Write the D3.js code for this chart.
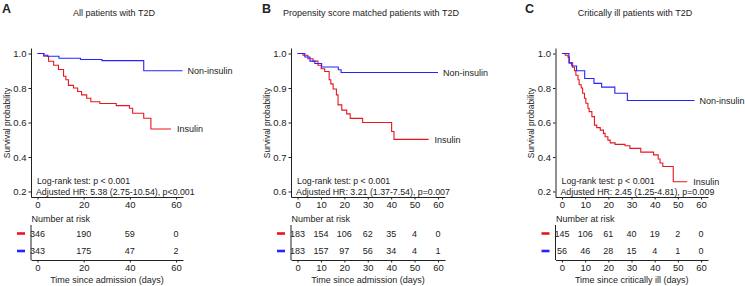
<!DOCTYPE html>
<html>
<head>
<meta charset="utf-8">
<script src="https://cdn.jsdelivr.net/npm/d3@7"></script>
<style>
  body { margin: 0; background: #fff; }
  svg text { font-family: "Liberation Sans", Arial, sans-serif; fill: #222; }
</style>
</head>
<body>
<div class="canvas"></div>
<script>
// survival curves: [day, survival probability]
const allInsulin = [[0,1],[2.7,0.984],[4.8,0.955],[7,0.932],[9.1,0.907],[11.3,0.868],[12.3,0.848],[13.4,0.815],[15.6,0.8],[17.4,0.78],[19.1,0.76],[21.3,0.741],[23.1,0.72],[27,0.71],[34.1,0.698],[39.8,0.683],[41.2,0.654],[46,0.625],[49.1,0.562],[57.8,0.562]];
const allNonInsulin = [[0,1],[2.8,0.99],[4.4,0.984],[9.3,0.973],[18.6,0.965],[27.9,0.959],[46,0.9],[62.8,0.9]];

const psmInsulin = [[0,1],[2.3,0.995],[4.4,0.985],[6.6,0.978],[8.7,0.966],[10.1,0.956],[11.6,0.948],[13.5,0.924],[14.2,0.912],[15.2,0.897],[16.6,0.88],[17.3,0.851],[18.9,0.836],[21,0.825],[22.5,0.812],[27.8,0.8],[40.2,0.774],[41.2,0.751],[56,0.751]];
const psmNonInsulin = [[0,1],[3.1,0.99],[5.3,0.978],[7.4,0.971],[10.3,0.961],[17.4,0.953],[18.6,0.945],[60,0.945]];

const icuInsulin = [[0,1],[1.4,0.99],[2.6,0.979],[3.2,0.946],[4.6,0.92],[5.4,0.901],[6,0.874],[6.9,0.848],[7.4,0.819],[8.3,0.8],[8.9,0.77],[9.7,0.741],[10.3,0.712],[11.2,0.683],[11.7,0.663],[12.9,0.634],[14,0.585],[15,0.57],[16.5,0.556],[17.9,0.537],[18.6,0.517],[19.8,0.498],[20.8,0.482],[22.9,0.473],[27.2,0.465],[29.3,0.45],[34,0.428],[39.5,0.412],[41.5,0.388],[42.3,0.365],[43.5,0.345],[48,0.256],[54,0.256]];
const icuNonInsulin = [[0,1],[3,0.946],[4.2,0.928],[6.3,0.9],[9.8,0.855],[13.8,0.827],[17.1,0.805],[22.8,0.77],[28.2,0.728],[57.2,0.728]];

// number at risk tables
const riskTimesA = [0, 20, 40, 60];
const riskInsulinA = [346, 190, 59, 0];
const riskNonInsulinA = [343, 175, 47, 2];
const riskTimesBC = [0, 10, 20, 30, 40, 50, 60];
const riskInsulinB = [183, 154, 106, 62, 35, 4, 0];
const riskNonInsulinB = [183, 157, 97, 56, 34, 4, 1];
const riskInsulinC = [145, 106, 61, 40, 19, 2, 0];
const riskNonInsulinC = [56, 46, 28, 15, 4, 1, 0];

// axis ticks
const yTicksAC = [0.2, 0.4, 0.6, 0.8, 1.0];
const yTicksB = [0.6, 0.7, 0.8, 0.9, 1.0];

const red = "#e8161e";
const blue = "#2424ff";

const svg = d3.select('.canvas')
  .append('svg')
    .attr('width', 745)
    .attr('height', 286);

// one panel = curves + stats text + risk table
function drawPanel(p) {
  const x = d3.scaleLinear().domain([-2.8, 63]).range([p.left, p.right]);
  const pad = (p.yMax - p.yMin) * 0.04;
  const y = d3.scaleLinear().domain([p.yMin - pad, p.yMax + pad]).range([197, 48]);

  const g = svg.append('g');

  // letter + title
  g.append('text').attr('x', p.letterX).attr('y', 13)
    .attr('font-size', 12.5).attr('font-weight', 'bold').text(p.letter);
  g.append('text').attr('x', p.titleX).attr('y', 16)
    .attr('font-size', 9).attr('text-anchor', 'middle').text(p.title);

  // y axis
  const yAxis = g.append('g').attr('transform', `translate(${p.left},0)`)
    .call(d3.axisLeft(y).tickValues(p.yTicks).tickSize(2.5).tickPadding(2).tickSizeOuter(0).tickFormat(d3.format('.1f')));
  yAxis.selectAll('text').attr('font-size', 9.5).attr('fill', '#222');
  yAxis.selectAll('line, path').attr('stroke', '#222');

  // x axis
  const xAxis = g.append('g').attr('transform', 'translate(0,197)')
    .call(d3.axisBottom(x).tickValues(p.riskTimes).tickSize(2.5).tickSizeOuter(0));
  xAxis.selectAll('text').attr('font-size', 9.5).attr('fill', '#222').attr('dy', '0.6em');
  xAxis.selectAll('line, path').attr('stroke', '#222');

  // y label
  g.append('text').attr('transform', `translate(${p.left - 21.5},123) rotate(-90)`)
    .attr('font-size', 8.4).attr('text-anchor', 'middle').text('Survival probability');

  // curves
  const line = d3.line().x(d => x(d[0])).y(d => y(d[1])).curve(d3.curveStepAfter);
  g.append('path').datum(p.insulin).attr('d', line)
    .attr('fill', 'none').attr('stroke', red).attr('stroke-width', 1.1);
  g.append('path').datum(p.nonInsulin).attr('d', line)
    .attr('fill', 'none').attr('stroke', blue).attr('stroke-width', 1.1);

  // curve labels
  const lastIns = p.insulin[p.insulin.length - 1];
  const lastNon = p.nonInsulin[p.nonInsulin.length - 1];
  g.append('text').attr('x', x(lastIns[0]) + 6).attr('y', y(lastIns[1]))
    .attr('dy', '0.35em').attr('font-size', 9).text('Insulin');
  g.append('text').attr('x', x(lastNon[0]) + 5).attr('y', y(lastNon[1]))
    .attr('dy', '0.35em').attr('font-size', 9).text('Non-insulin');

  // stats
  g.append('text').attr('x', x(0) - 0.5).attr('y', 181).attr('dy', '0.35em')
    .attr('font-size', 8.8).text(p.logrank);
  g.append('text').attr('x', x(0) - 1.5).attr('y', 192).attr('dy', '0.35em')
    .attr('font-size', 8.8).text(p.hr);

  // risk table
  g.append('text').attr('x', p.left + 0.5).attr('y', 219).attr('dy', '0.35em')
    .attr('font-size', 9).text('Number at risk');
  const rows = [{vals: p.riskIns, col: red, yy: 233.5}, {vals: p.riskNon, col: blue, yy: 251}];
  rows.forEach(r => {
    g.append('rect').attr('x', p.left - 14).attr('y', r.yy - 1.3)
      .attr('width', 8).attr('height', 2.6).attr('fill', r.col);
    g.selectAll(null).data(r.vals).enter().append('text')
      .attr('x', (d, i) => x(p.riskTimes[i])).attr('y', r.yy).attr('dy', '0.35em')
      .attr('text-anchor', 'middle').attr('font-size', 9).text(d => d);
  });
  const tAxis = g.append('g').attr('transform', 'translate(0,260)')
    .call(d3.axisBottom(x).tickValues(p.riskTimes).tickSize(2.5).tickSizeOuter(0));
  tAxis.selectAll('text').attr('font-size', 9.5).attr('fill', '#222').attr('dy', '0.6em');
  tAxis.selectAll('line, path').attr('stroke', '#222');
  g.append('line').attr('x1', p.left).attr('x2', p.left).attr('y1', 225).attr('y2', 260)
    .attr('stroke', '#222');

  g.append('text').attr('x', (p.left + p.right) / 2).attr('y', 280).attr('dy', '0.35em')
    .attr('text-anchor', 'middle').attr('font-size', 9).text(p.xlabel);
}

drawPanel({
  letter: 'A', letterX: 2, title: 'All patients with T2D', titleX: 114,
  left: 31, right: 183, yMin: 0.2, yMax: 1.0, yTicks: yTicksAC,
  insulin: allInsulin, nonInsulin: allNonInsulin,
  logrank: 'Log-rank test: p < 0.001', hr: 'Adjusted HR: 5.38 (2.75-10.54), p<0.001',
  riskTimes: riskTimesA, riskIns: riskInsulinA, riskNon: riskNonInsulinA,
  xlabel: 'Time since admission (days)'
});
drawPanel({
  letter: 'B', letterX: 262, title: 'Propensity score matched patients with T2D', titleX: 371,
  left: 291, right: 445, yMin: 0.6, yMax: 1.0, yTicks: yTicksB,
  insulin: psmInsulin, nonInsulin: psmNonInsulin,
  logrank: 'Log-rank test: p < 0.001', hr: 'Adjusted HR: 3.21 (1.37-7.54), p=0.007',
  riskTimes: riskTimesBC, riskIns: riskInsulinB, riskNon: riskNonInsulinB,
  xlabel: 'Time since admission (days)'
});
drawPanel({
  letter: 'C', letterX: 525, title: 'Critically ill patients with T2D', titleX: 635,
  left: 555.5, right: 708, yMin: 0.2, yMax: 1.0, yTicks: yTicksAC,
  insulin: icuInsulin, nonInsulin: icuNonInsulin,
  logrank: 'Log-rank test: p < 0.001', hr: 'Adjusted HR: 2.45 (1.25-4.81), p=0.009',
  riskTimes: riskTimesBC, riskIns: riskInsulinC, riskNon: riskNonInsulinC,
  xlabel: 'Time since critically ill (days)'
});
</script>
</body>
</html>
